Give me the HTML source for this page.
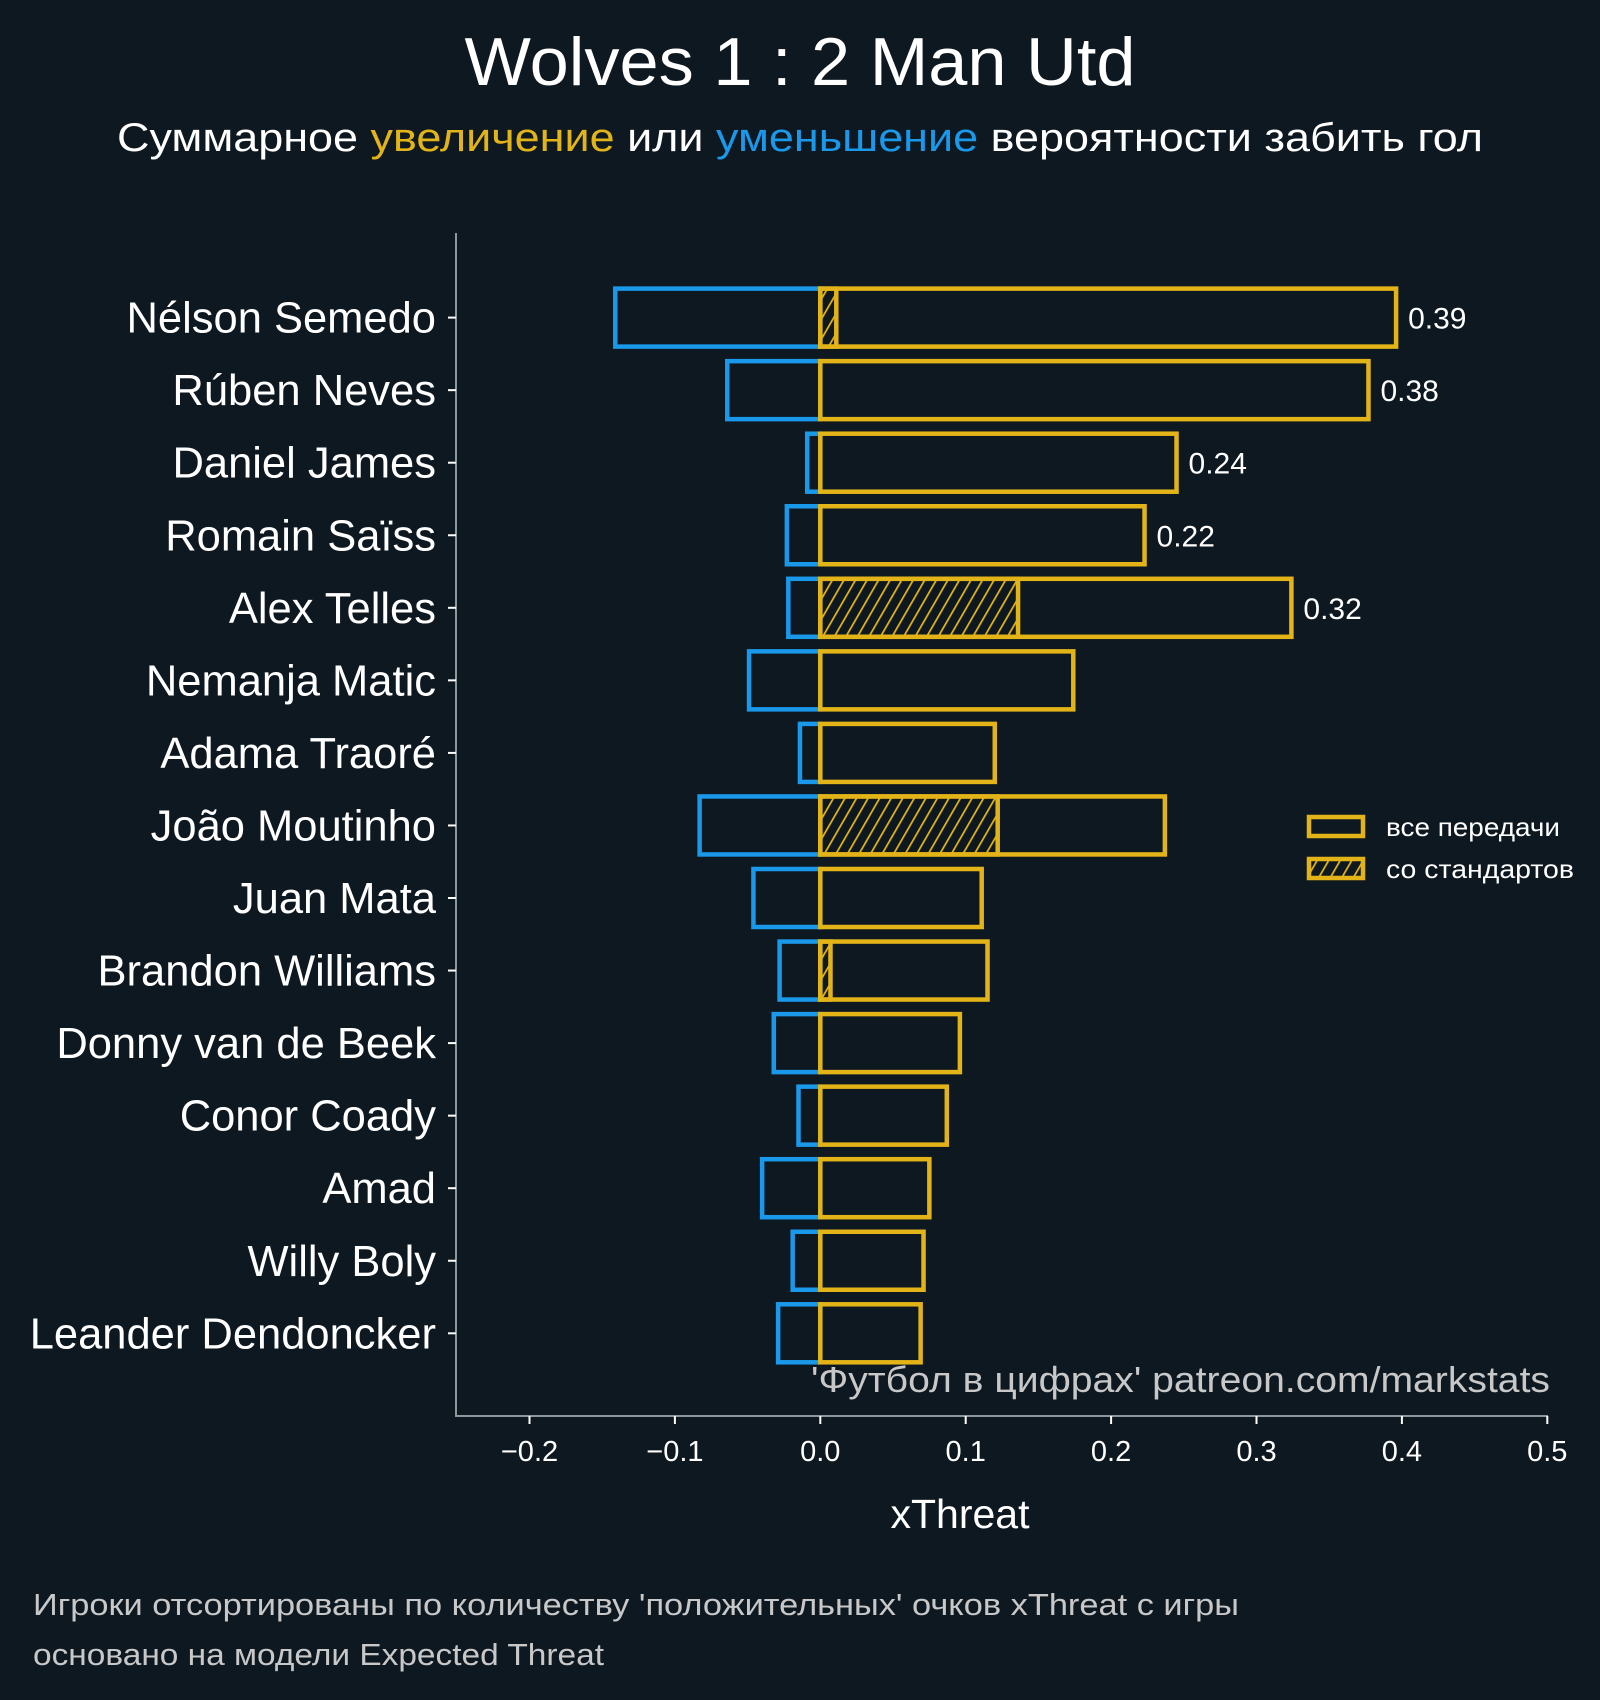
<!DOCTYPE html>
<html><head><meta charset="utf-8"><style>
html,body{margin:0;padding:0;background:#0e1821;}
svg{display:block;font-family:"Liberation Sans","DejaVu Sans",sans-serif;}
</style></head><body>
<svg id="chart" width="1600" height="1700" viewBox="0 0 1600 1700">
<defs>
<pattern id="hatch" patternUnits="userSpaceOnUse" width="10" height="10" patternTransform="rotate(30)">
<line x1="0" y1="0" x2="0" y2="10" stroke="#e3b418" stroke-width="3.5"/>
</pattern>
</defs>
<rect width="1600" height="1700" fill="#0e1821"/>
<text x="800" y="85" text-anchor="middle" font-size="68" fill="#fff" textLength="671" lengthAdjust="spacingAndGlyphs">Wolves 1 : 2 Man Utd</text>
<text x="800" y="151" text-anchor="middle" font-size="40" fill="#fff" textLength="1366" lengthAdjust="spacingAndGlyphs">Суммарное <tspan fill="#e3b418">увеличение</tspan> или <tspan fill="#1a98ea">уменьшение</tspan> вероятности забить гол</text>
<g id="plot"></g>
<text x="1550" y="1392" text-anchor="end" font-size="36" fill="#c8c8c8" textLength="739" lengthAdjust="spacingAndGlyphs">'Футбол в цифрах' patreon.com/markstats</text>
<text x="960" y="1528" text-anchor="middle" font-size="41" fill="#fff">xThreat</text>
<text x="33" y="1615" font-size="31" fill="#c8c8c8" textLength="1206" lengthAdjust="spacingAndGlyphs">Игроки отсортированы по количеству 'положительных' очков xThreat с игры</text>
<text x="33" y="1665" font-size="31" fill="#c8c8c8" textLength="571" lengthAdjust="spacingAndGlyphs">основано на модели Expected Threat</text>
<g>
<rect x="1309" y="817" width="54" height="19" fill="none" stroke="#e3b418" stroke-width="4.5"/>
<text x="1386" y="836" font-size="26" fill="#fff" textLength="174" lengthAdjust="spacingAndGlyphs">все передачи</text>
<rect x="1309" y="859" width="54" height="19" fill="url(#hatch)" stroke="#e3b418" stroke-width="4.5"/>
<text x="1386" y="878" font-size="26" fill="#fff" textLength="188" lengthAdjust="spacingAndGlyphs">со стандартов</text>
</g>
</svg>
<script>
const players=["Nélson Semedo","Rúben Neves","Daniel James","Romain Saïss","Alex Telles","Nemanja Matic","Adama Traoré","João Moutinho","Juan Mata","Brandon Williams","Donny van de Beek","Conor Coady","Amad","Willy Boly","Leander Dendoncker"];
const positive=[0.396,0.377,0.245,0.223,0.324,0.174,0.120,0.237,0.111,0.115,0.096,0.087,0.075,0.071,0.069];
const negative=[-0.141,-0.064,-0.009,-0.023,-0.022,-0.049,-0.014,-0.083,-0.046,-0.028,-0.032,-0.015,-0.040,-0.019,-0.029];
const setPiece=[0.011,0,0,0,0.136,0,0,0.122,0,0.007,0,0,0,0,0];
const valueLabels=["0.39","0.38","0.24","0.22","0.32","","","","","","","","","",""];
const xTicks=[-0.2,-0.1,0.0,0.1,0.2,0.3,0.4,0.5];
const xTickLabels=["\u22120.2","\u22120.1","0.0","0.1","0.2","0.3","0.4","0.5"];

const NS="http://www.w3.org/2000/svg";
const g=document.getElementById('plot');
const x=v=>820.3+(v)*1454;
const y=i=>317.6+i*72.55;
const bh=58;
function mk(t,a){const e=document.createElementNS(NS,t);for(const k in a)e.setAttribute(k,a[k]);g.appendChild(e);return e;}
let e=mk('line',{x1:456,y1:233,x2:456,y2:1416,stroke:'#8a9a9a','stroke-width':2});


e=mk('line',{x1:455,y1:1416,x2:1548,y2:1416,stroke:'#8a9a9a','stroke-width':2});


xTicks.forEach((v,i)=>{
  let t=mk('line',{x1:x(v),y1:1416,x2:x(v),y2:1424,stroke:'#fff','stroke-width':2});
  
  
  let l=mk('text',{x:x(v),y:1461,'text-anchor':'middle','font-size':29,fill:'#fff'});
  l.textContent=xTickLabels[i];
  
  
});
players.forEach((p,i)=>{
  const cy=y(i);
  let t=mk('line',{x1:448,y1:cy,x2:456,y2:cy,stroke:'#fff','stroke-width':2});
  
  
  let l=mk('text',{x:436,y:cy+15,'text-anchor':'end','font-size':43.5,fill:'#fff'});
  l.textContent=p;
  
  
  let n=mk('rect',{x:x(negative[i]),y:cy-bh/2,width:x(0)-x(negative[i]),height:bh,fill:'none',stroke:'#1a98ea','stroke-width':4.5});
  
  
  if(setPiece[i]>0){
    let s=mk('rect',{x:x(0),y:cy-bh/2,width:x(setPiece[i])-x(0),height:bh,fill:'url(#hatch)',stroke:'#e3b418','stroke-width':4.5});
    
    
  }
  let b=mk('rect',{x:x(0),y:cy-bh/2,width:x(positive[i])-x(0),height:bh,fill:'none',stroke:'#e3b418','stroke-width':4.5});
  
  
  if(valueLabels[i]){
    let v=mk('text',{x:x(positive[i])+12,y:cy+11,'font-size':30,fill:'#fff'});
    v.textContent=valueLabels[i];
    
    
  }
});
</script>
</body></html>
